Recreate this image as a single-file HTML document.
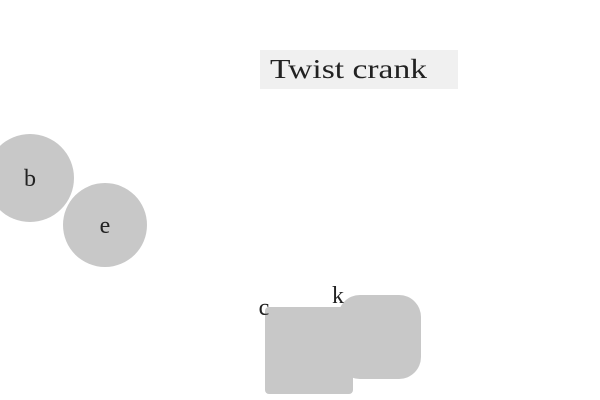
<!DOCTYPE html>
<html><head><meta charset="utf-8"><style>
html,body{margin:0;padding:0;background:#fff;width:600px;height:400px;overflow:hidden}
svg{display:block}
text{font-family:"Liberation Serif","DejaVu Serif",serif;fill:#222}
</style></head><body>
<svg width="600" height="400" viewBox="0 0 600 400">
<rect x="260" y="50" width="198" height="39" fill="#f0f0f0"/>
<text x="270" y="78" font-size="27" textLength="157" lengthAdjust="spacingAndGlyphs">Twist crank</text>
<circle cx="30" cy="178" r="44" fill="#c8c8c8"/>
<text x="30" y="186" font-size="24" text-anchor="middle">b</text>
<circle cx="105" cy="225" r="42" fill="#c8c8c8"/>
<text x="105" y="233" font-size="24" text-anchor="middle">e</text>
<rect x="265" y="307" width="88" height="87" rx="4" fill="#c8c8c8"/>
<text x="264" y="315" font-size="24" text-anchor="middle">c</text>
<rect x="338" y="295" width="83" height="84" rx="22" fill="#c8c8c8"/>
<text x="338" y="303" font-size="24" text-anchor="middle">k</text>
</svg>
</body></html>
